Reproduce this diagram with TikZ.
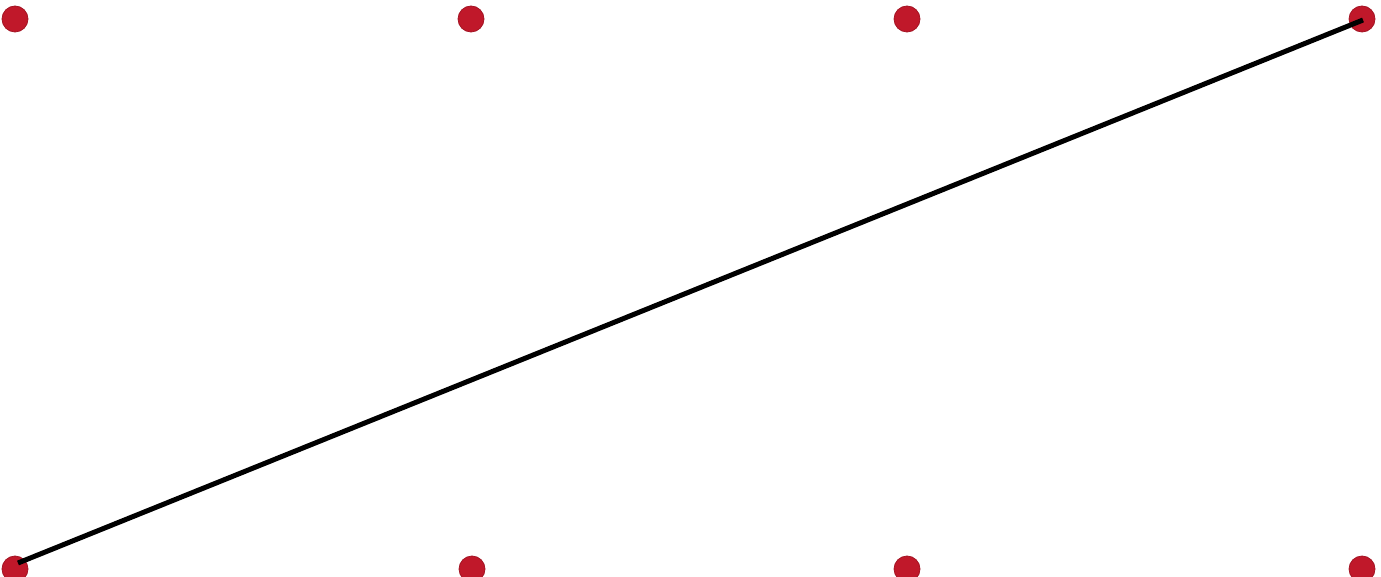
\documentclass[tikz,border=0pt]{standalone}
\definecolor{dotred}{RGB}{192,24,42}
\begin{document}
\begin{tikzpicture}[x=1pt,y=-1pt,
  dot/.style={circle,fill=dotred,draw=dotred!85!black,line width=0.8pt,minimum size=26pt,inner sep=0pt},
  link/.style={line width=5pt,black}]
\useasboundingbox (0,0) rectangle (1381,577);
\node[dot] (t1) at (15,19) {};
\node[dot] (t2) at (471,19) {};
\node[dot] (t3) at (907,19) {};
\node[dot] (t4) at (1362,19) {};
\node[dot] (b1) at (15,569) {};
\node[dot] (b2) at (472,569) {};
\node[dot] (b3) at (907,569) {};
\node[dot] (b4) at (1362,569) {};
\coordinate (s) at ([shift={(3,-6)}]b1.center);
\coordinate (e) at ([shift={(1,1)}]t4.center);
\draw[link] (s) -- (e);
\end{tikzpicture}
\end{document}
